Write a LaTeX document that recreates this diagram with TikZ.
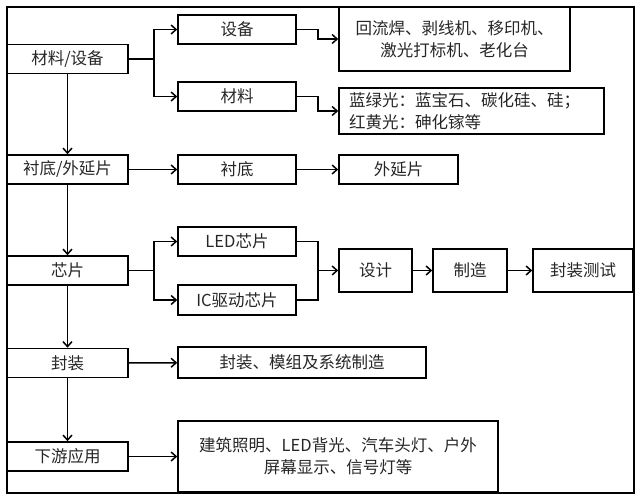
\documentclass[tikz,border=0pt]{standalone}
\usepackage{fontspec}
\setmainfont{Noto Sans CJK SC}
\usetikzlibrary{arrows.meta}

\tikzset{
  blk/.style={draw,line width=1.6pt,inner sep=0pt,minimum height=29pt,text=black!85,
    font=\fontsize{16.5}{22}\selectfont},
}

\begin{document}
\begin{tikzpicture}[x=1pt,y=-1pt,>={Straight Barb[length=5pt,width=9pt]},line width=1.5pt]
\useasboundingbox (0,0) rectangle (640,497);

% Outer frame
\draw[line width=1.2pt] (7,7) rectangle (634,493);

% Left column
\node[blk,minimum width=121pt] (mat)  at (67.5,59)    {材料/设备};
\node[blk,minimum width=121pt] (sub)  at (67.5,169.5) {衬底/外延片};
\node[blk,minimum width=121pt] (chip) at (67.5,270.5) {芯片};
\node[blk,minimum width=121pt] (pkg)  at (67.5,363)   {封装};
\node[blk,minimum width=121pt] (app)  at (67.5,456.5) {下游应用};

% Middle column
\node[blk,minimum width=118pt] (equ)  at (237,29.5)  {设备};
\node[blk,minimum width=118pt] (matl) at (237,96.5)  {材料};
\node[blk,minimum width=118pt] (subs) at (237,169.5) {衬底};
\node[blk,minimum width=118pt] (led)  at (237,241.5) {LED芯片};
\node[blk,minimum width=118pt,minimum height=30pt] (ic) at (237,300) {IC驱动芯片};
\node[blk,minimum width=248pt,minimum height=31pt] (pkgd) at (302,362.5) {封装、模组及系统制造};
\node[blk,minimum width=320pt,minimum height=71pt,align=center] (appd) at (338,456.5)
  {建筑照明、LED背光、汽车头灯、户外\\屏幕显示、信号灯等};

% Right column
\node[blk,minimum width=231pt,minimum height=64pt,align=center] (equd) at (454.5,39)
  {回流焊、剥线机、移印机、\\激光打标机、老化台};
\node[blk,minimum height=46pt,text width=245pt,inner xsep=10pt,align=left] (matd) at (471.5,111)
  {蓝绿光：蓝宝石、碳化硅、硅；\\红黄光：砷化镓等};
\node[blk,minimum width=119pt] (epi) at (398.5,169.5) {外延片};

% Chip flow
\node[blk,minimum width=73pt,minimum height=43pt]  (design) at (375.5,270.5) {设计};
\node[blk,minimum width=74pt,minimum height=43pt]  (fab)    at (470,270.5)   {制造};
\node[blk,minimum width=100pt,minimum height=43pt] (test)   at (583,270.5)   {封装测试};
\coordinate (merge) at (317,270.5);

% Main chain
\foreach \a/\b in {mat/sub,sub/chip,chip/pkg,pkg/app} {
  \draw[->] (\a) -- (\b);
}

% Straight arrows
\foreach \a/\b in {sub/subs,subs/epi,pkg/pkgd,app/appd,merge/design,design/fab,fab/test} {
  \draw[->] (\a) -- (\b);
}

% Branches
\foreach \a/\b in {mat/equ,mat/matl,chip/led,chip/ic} {
  \draw[->] (\a.east) -- ++(25,0) |- (\b.west);
}
\foreach \a/\b in {equ/equd,matl/matd} {
  \draw[->] (\a.east) -- ++(21,0) |- (\b.west);
}

% Merge
\draw (led.east) -- ++(21,0) |- (ic.east);

\end{tikzpicture}
\end{document}
